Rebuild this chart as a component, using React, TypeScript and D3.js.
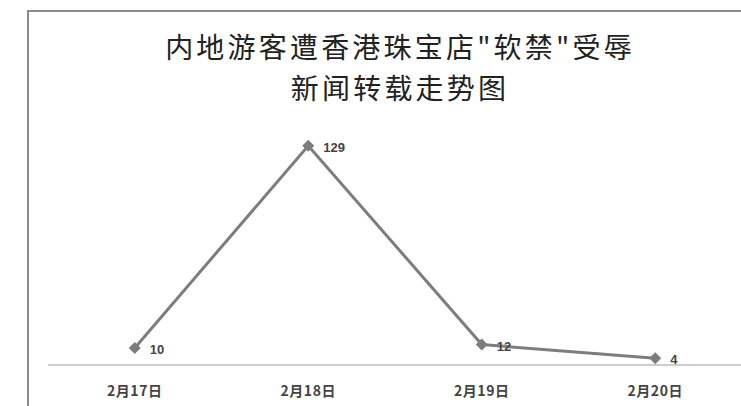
import React from "react";
import * as d3 from "d3";

const categories = ["2月17日", "2月18日", "2月19日", "2月20日"];
const values = [10, 129, 12, 4];
const titleLines = ["内地游客遭香港珠宝店\"软禁\"受辱", "新闻转载走势图"];

export default function App() {
  const W = 741, H = 406;
  const x = d3.scaleBand<string>().domain(categories).range([48, 742]);
  const y = d3.scaleLinear().domain([0, 129]).range([365, 145.7]);
  const cx = (c: string) => (x(c) as number) + x.bandwidth() / 2;
  const line = d3.line<number>().x((_, i) => cx(categories[i])).y((v) => y(v));
  const diamond = d3.symbol().type(d3.symbolSquare).size(72)();
  const cjk = "'Noto Sans CJK SC', 'Noto Sans', sans-serif";
  return (
    <svg width={W} height={H} style={{ position: "absolute", left: 0, top: 0, background: "#fff" }}>
      <rect x={28} y={11} width={760} height={420} fill="#fff" stroke="#8c8c8c" strokeWidth={2} />
      {titleLines.map((t, i) => (
        <text key={i} x={400} y={58 + i * 41} textAnchor="middle" fontFamily={cjk} fontSize={28} letterSpacing={3.2} fill="#222">
          {t}
        </text>
      ))}
      <line x1={48} x2={741} y1={y(0)} y2={y(0)} stroke="#bdbdbd" strokeWidth={1.5} />
      {categories.map((c) => (
        <text key={c} x={cx(c)} y={396} textAnchor="middle" fontFamily={cjk} fontSize={14} letterSpacing={0.5} fontWeight="bold" fill="#444">
          {c}
        </text>
      ))}
      <path d={line(values) as string} fill="none" stroke="#7d7d7d" strokeWidth={3} />
      {values.map((v, i) => (
        <g key={i}>
          <path d={diamond as string} transform={`translate(${cx(categories[i])},${y(v)}) rotate(45)`} fill="#7d7d7d" />
          <text x={cx(categories[i]) + 15} y={y(v) + 6} fontFamily="'Liberation Sans', sans-serif" fontSize={13} fontWeight="bold" fill="#444">
            {v}
          </text>
        </g>
      ))}
    </svg>
  );
}
